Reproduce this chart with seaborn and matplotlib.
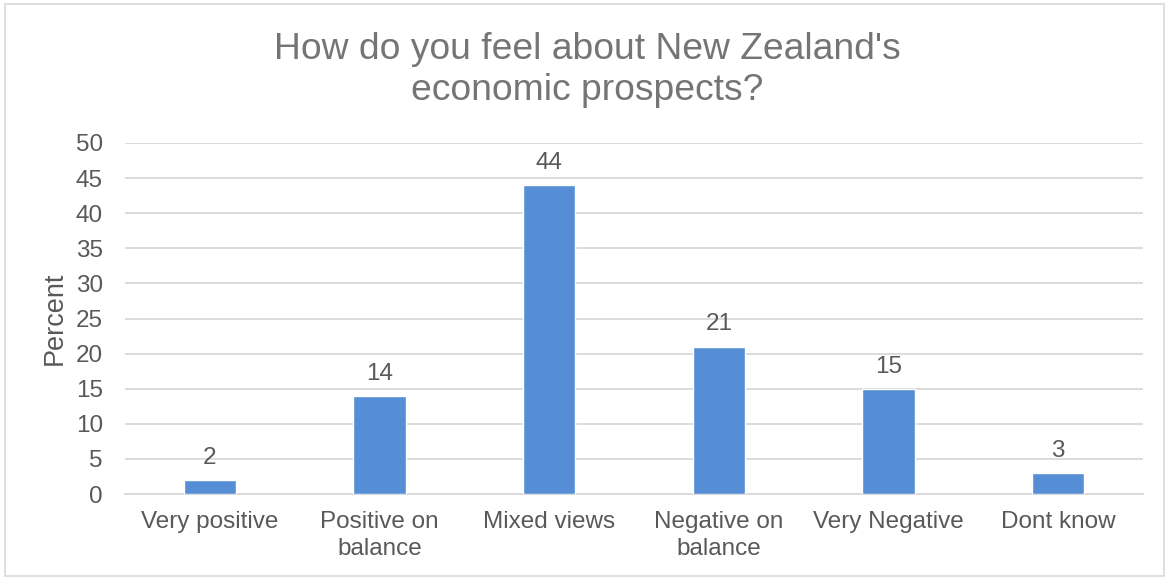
import matplotlib
matplotlib.use("Agg")
import matplotlib.pyplot as plt
import seaborn as sns
import pandas as pd
from matplotlib.patches import Rectangle

categories = ["Very positive", "Positive on\nbalance", "Mixed views",
              "Negative on\nbalance", "Very Negative", "Dont know"]
percent = [2, 14, 44, 21, 15, 3]
y_ticks = [0, 5, 10, 15, 20, 25, 30, 35, 40, 45, 50]

sns.set_theme(style="white")
plt.rcParams["font.family"] = ["Liberation Sans", "DejaVu Sans"]

df = pd.DataFrame({"category": categories, "percent": percent})

fig = plt.figure(figsize=(11.68, 5.78), dpi=100)
ax = fig.add_axes([0.107, 0.1453, 0.8716, 0.6073])

sns.barplot(data=df, x="category", y="percent", color="#558ED5",
            saturation=1, width=0.31, ax=ax, zorder=3)

ax.set_ylim(0, 50)
ax.set_xlim(-0.5, len(categories) - 0.5)
ax.set_yticks(y_ticks)
ax.grid(axis="y", color="#D9D9D9", linewidth=1.3, zorder=0)
for s in ["top", "right", "left"]:
    ax.spines[s].set_visible(False)
ax.spines["bottom"].set_color("#D9D9D9")
ax.spines["bottom"].set_linewidth(1.3)

ax.tick_params(axis="both", length=0, labelsize=17.5, labelcolor="#595959")
ax.tick_params(axis="y", pad=16)
ax.tick_params(axis="x", pad=12)
for lbl in ax.get_xticklabels():
    lbl.set_linespacing(1.3)
ax.set_xlabel("")
ax.set_ylabel("Percent", fontsize=19.5, color="#595959", labelpad=6)

for container in ax.containers:
    ax.bar_label(container, fmt="%d", padding=8, fontsize=17.5, color="#595959")

fig.text(0.503, 0.879, "How do you feel about New Zealand's\neconomic prospects?",
         ha="center", va="center", fontsize=26.8, color="#757575", linespacing=1.2)

fig.patches.append(Rectangle((0.004, 0.003), 0.993, 0.99, transform=fig.transFigure,
                             fill=False, edgecolor="#D9D9D9", linewidth=1.2))

fig.savefig("out.png", dpi=100)
